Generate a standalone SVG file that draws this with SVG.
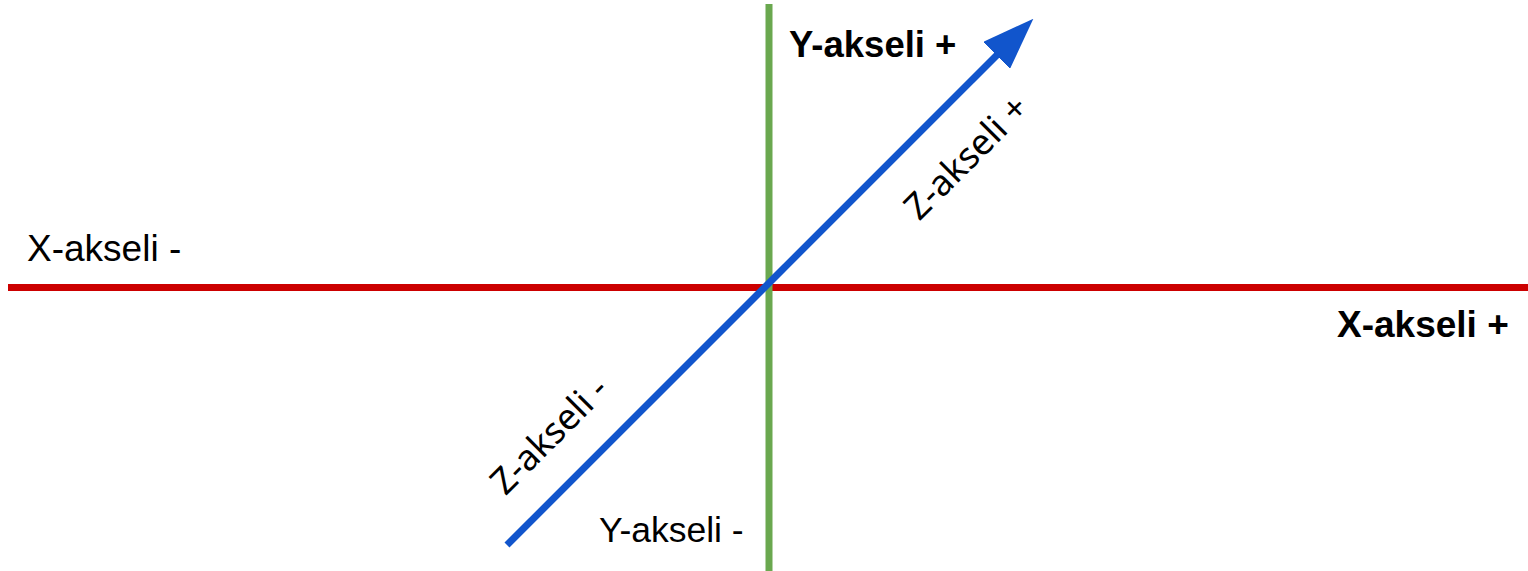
<svg xmlns="http://www.w3.org/2000/svg" width="1528" height="571" viewBox="0 0 1528 571">
<style>
.lbl{font-family:"Liberation Sans",Arial,sans-serif;font-size:37px;fill:#000}
.b{font-weight:bold}
.z{font-family:"Noto Sans","Open Sans",sans-serif;font-size:36px;fill:#000}
</style>
<defs>
<marker id="ah" markerUnits="userSpaceOnUse" markerWidth="52" markerHeight="38" viewBox="0 0 52 38" refX="2" refY="19" orient="auto">
<path d="M0,0 L52,19 L0,38 Z" fill="#1155cc"/>
</marker>
</defs>
<rect width="1528" height="571" fill="#fff"/>
<g id="connectors">
<line id="x-axis" x1="8" y1="287.5" x2="1528" y2="287.5" stroke="#cc0000" stroke-width="7"/>
<line id="y-axis" x1="769" y1="4" x2="769" y2="571" stroke="#6aa84f" stroke-width="7"/>
<line id="z-axis" x1="507" y1="545" x2="998" y2="54" stroke="#1155cc" stroke-width="7" marker-end="url(#ah)"/>
</g>
<g id="label-y-plus"><text class="lbl b" x="789" y="57" style="font-size:36.5px">Y-akseli +</text></g>
<g id="label-y-minus"><text class="lbl" x="599" y="542" style="font-size:35.5px">Y-akseli -</text></g>
<g id="label-x-minus"><text class="lbl" x="27" y="261">X-akseli -</text></g>
<g id="label-x-plus"><text class="lbl b" x="1337" y="337">X-akseli +</text></g>
<g id="label-z-plus"><text class="z" text-anchor="middle" transform="translate(975,166) rotate(-45)">Z-akseli +</text></g>
<g id="label-z-minus"><text class="z" text-anchor="middle" transform="translate(558,444) rotate(-45)">Z-akseli -</text></g>
</svg>
